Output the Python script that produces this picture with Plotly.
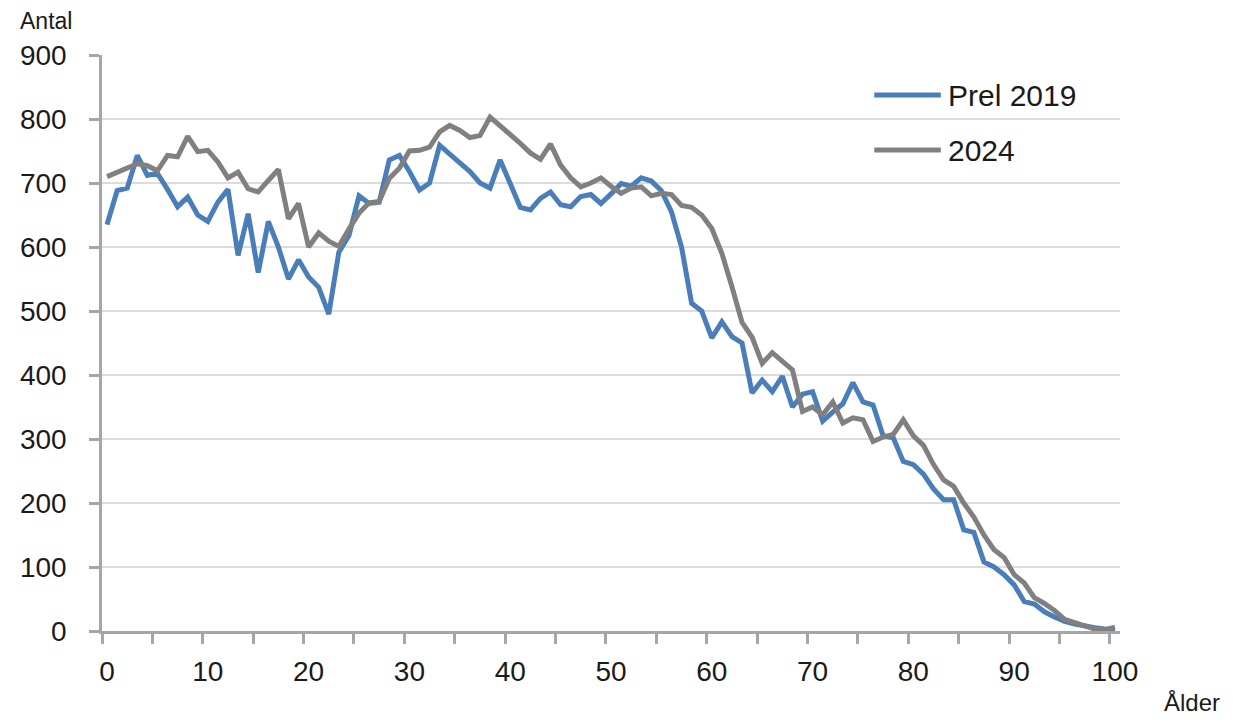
import plotly.graph_objects as go

ages = list(range(0, 101))

prel_2019 = [635, 688, 692, 743, 712, 715, 690, 663, 678, 650,
             640, 670, 690, 587, 652, 560, 640, 600, 550, 580,
             553, 537, 495, 592, 618, 680, 668, 670, 736, 743,
             718, 689, 700, 759, 745, 732, 718, 700, 692, 736,
             700, 662, 658, 676, 686, 666, 663, 679, 682, 668,
             683, 699, 695, 708, 703, 688, 655, 600, 512, 500,
             458, 483, 460, 450, 372, 392, 374, 398, 350, 370,
             374, 328, 342, 355, 388, 358, 353, 305, 302, 265,
             260, 245, 222, 205, 205, 158, 154, 108, 100, 88,
             72, 46, 42, 30, 22, 15, 11, 7, 5, 3, 2]

y_2024 = [710, 717, 722, 730, 727, 719, 743, 741, 773, 749,
          751, 733, 708, 717, 691, 686, 704, 721, 644, 668,
          600, 622, 609, 601, 628, 653, 669, 671, 707, 723,
          750, 751, 756, 780, 790, 782, 771, 774, 803, 790,
          777, 762, 747, 737, 761, 728, 708, 694, 700, 708,
          695, 684, 692, 694, 680, 684, 682, 665, 662, 650,
          629, 590, 538, 482, 459, 418, 435, 422, 408, 343,
          350, 338, 358, 325, 333, 330, 296, 303, 307, 330,
          305, 290, 260, 236, 226, 200, 178, 150, 127, 115,
          88, 75, 52, 43, 32, 18, 14, 8, 3, 2, 6]

series_names = ["Prel 2019", "2024"]
series_colors = ["#4a7ebb", "#808080"]
x_ticks = list(range(0, 101, 10))
x_tick_marks = [v - 0.5 for v in range(0, 102, 5)]
y_ticks = list(range(0, 901, 100))

FONT = "Liberation Sans, Arial, sans-serif"
AXIS = "#a6a6a6"

fig = go.Figure()
fig.add_trace(go.Scatter(x=ages, y=prel_2019, mode="lines", name=series_names[0],
                         showlegend=False,
                         line=dict(color=series_colors[0], width=5)))
fig.add_trace(go.Scatter(x=ages, y=y_2024, mode="lines", name=series_names[1],
                         showlegend=False,
                         line=dict(color=series_colors[1], width=5)))

# legend (drawn to match the long sample lines of the original)
legend_y = [0.9305, 0.835]
shapes = []
annotations = []
for name, color, ly in zip(series_names, series_colors, legend_y):
    shapes.append(dict(type="line", xref="paper", yref="paper",
                       x0=0.7586, x1=0.824, y0=ly, y1=ly,
                       line=dict(color=color, width=5)))
    annotations.append(dict(text=name, xref="paper", yref="paper",
                            x=0.829, y=ly, xanchor="left", yanchor="middle",
                            showarrow=False, font=dict(size=30, color="#1a1a1a")))

annotations += [
    dict(text="Antal", xref="paper", yref="paper", x=-0.083, y=1.085,
         xanchor="left", yanchor="top", showarrow=False,
         font=dict(size=23, color="#1a1a1a")),
    dict(text="Ålder", xref="paper", yref="paper", x=1.041, y=-0.098,
         xanchor="left", yanchor="top", showarrow=False,
         font=dict(size=24, color="#1a1a1a")),
]

fig.update_layout(
    width=1225, height=714,
    margin=dict(l=89, r=113, t=47, b=91),
    paper_bgcolor="white", plot_bgcolor="white",
    font=dict(family=FONT, size=28, color="#1a1a1a"),
    showlegend=False,
    shapes=shapes,
    annotations=annotations,
    xaxis=dict(range=[-0.5, 100.5], tickvals=x_ticks, ticktext=[str(v) for v in x_ticks],
               showgrid=False, zeroline=False,
               showline=True, linecolor=AXIS, linewidth=2.5,
               ticks="", ticklabelstandoff=14,
               minor=dict(tickmode="array", tickvals=x_tick_marks, ticks="outside",
                          ticklen=10, tickcolor=AXIS, tickwidth=2.5, showgrid=False)),
    yaxis=dict(range=[0, 900], tickvals=y_ticks,
               showgrid=True, gridcolor="#dcdcdc", gridwidth=2.2,
               zeroline=False,
               showline=True, linecolor=AXIS, linewidth=2.5,
               ticks="outside", ticklen=10, tickcolor=AXIS, tickwidth=2.5,
               ticklabelstandoff=17),
)

fig.write_html("out.html")
